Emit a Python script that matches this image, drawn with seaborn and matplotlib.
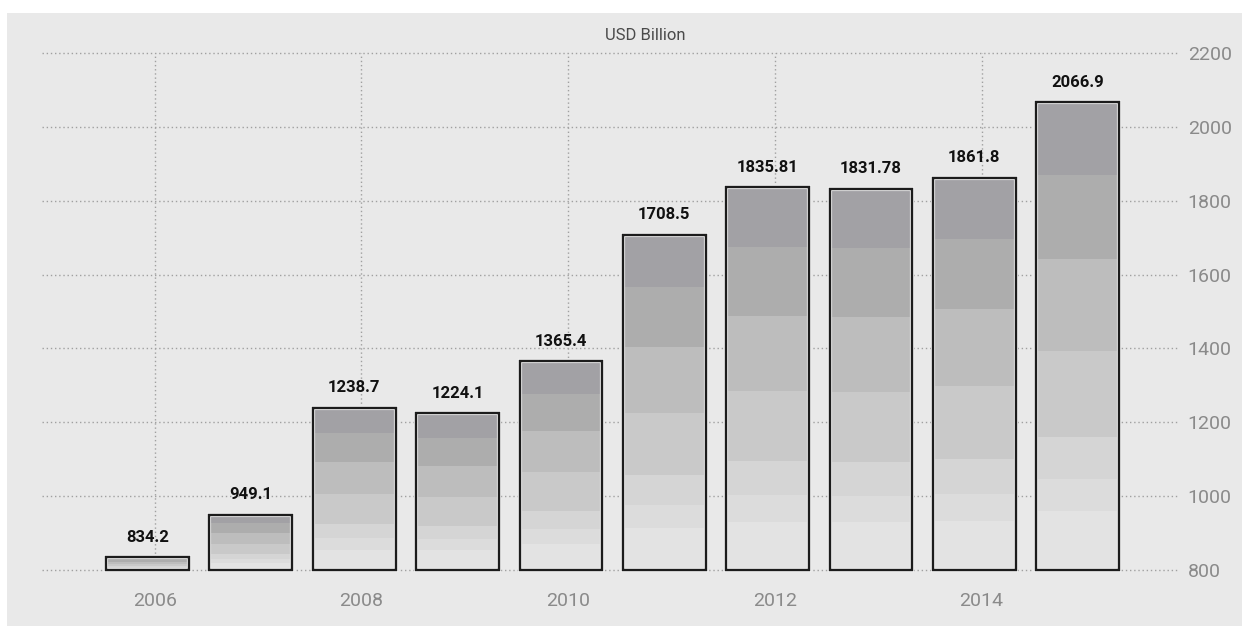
import matplotlib
matplotlib.use("Agg")
import matplotlib.pyplot as plt
from matplotlib.patches import Rectangle
import seaborn as sns
import pandas as pd

# Annual values, USD billion
years = [2006, 2007, 2008, 2009, 2010, 2011, 2012, 2013, 2014, 2015]
values = [834.2, 949.1, 1238.7, 1224.1, 1365.4, 1708.5, 1835.81, 1831.78, 1861.8, 2066.9]
value_labels = [str(v) for v in values]
year_ticks = [2006, 2008, 2010, 2012, 2014]
y_ticks = [800, 1000, 1200, 1400, 1600, 1800, 2000, 2200]
unit_label = "USD Billion"

BASE = 800
# stepped shading inside each bar, as fractions of bar height (bottom -> top)
band_edges = [0.0, 0.126, 0.195, 0.284, 0.468, 0.665, 0.845, 1.0]
band_colors = ["#e3e3e3", "#dcdcdc", "#d5d5d5", "#c9c9c9", "#bdbdbd", "#adadad", "#a2a1a5"]

sns.set_style("white")
plt.rcParams["font.family"] = ["Roboto", "DejaVu Sans"]

W, H = 1242, 626
fig = plt.figure(figsize=(W / 100, H / 100), dpi=100)
fig.patch.set_facecolor("white")
panel = "#e9e9e9"
fig.add_artist(Rectangle((7 / W, 0), 1 - 7 / W, 1 - 13 / H, transform=fig.transFigure,
                         facecolor=panel, edgecolor="none", zorder=0))

ax = fig.add_axes([42 / W, 1 - 570 / H, (1178 - 42) / W, (570 - 53) / H])
ax.set_facecolor(panel)

df = pd.DataFrame({"year": years, "value": values})
df["rise"] = df["value"] - BASE

# shaded bands
for lo, hi, col in zip(band_edges[:-1], band_edges[1:], band_colors):
    ax.bar(df["year"], df["rise"] * (hi - lo), bottom=BASE + df["rise"] * lo,
           width=0.8, color=col, linewidth=0, zorder=2)

# light halo and dark outline around each bar
sns.barplot(data=df, x="year", y="rise", native_scale=True, fill=False, color="#f6f6f6",
            saturation=1, errorbar=None, bottom=BASE, linewidth=3.0, clip_on=False,
            zorder=3, ax=ax)
sns.barplot(data=df, x="year", y="rise", native_scale=True, fill=False, color="#1c1c1c",
            saturation=1, errorbar=None, bottom=BASE, linewidth=1.7, clip_on=False,
            zorder=4, ax=ax)

for x, v, lbl in zip(df["year"], df["value"], value_labels):
    ax.annotate(lbl, (x, v), xytext=(0, 9), textcoords="offset points",
                ha="center", va="bottom", fontsize=12, fontweight="bold",
                color="#111111", zorder=5)

ax.set_xlim(2004.98, 2015.97)
ax.set_ylim(800, 2200)
ax.set_xticks([y + 0.07 for y in year_ticks])
ax.set_xticklabels([str(y) for y in year_ticks])
ax.set_yticks(y_ticks)
ax.set_yticklabels([str(t) for t in y_ticks])
ax.yaxis.tick_right()
ax.set_xlabel("")
ax.set_ylabel("")

ax.set_axisbelow(True)
ax.grid(True, linestyle=(0, (1, 2)), color="#a0a0a0", linewidth=1)
for gl in ax.get_xgridlines() + ax.get_ygridlines():
    gl.set_clip_on(False)
for s in ax.spines.values():
    s.set_visible(False)
ax.tick_params(axis="x", length=6, width=1, color="#b0b0b0", pad=10,
               labelsize=14, labelcolor="#8a8a8a")
ax.tick_params(axis="y", length=0, pad=7, labelsize=14, labelcolor="#8a8a8a")

fig.text(645 / W, 1 - 36 / H, unit_label, ha="center", va="center",
         fontsize=12, color="#4a4a4a")

fig.savefig("out.png", dpi=100, facecolor=fig.get_facecolor())
